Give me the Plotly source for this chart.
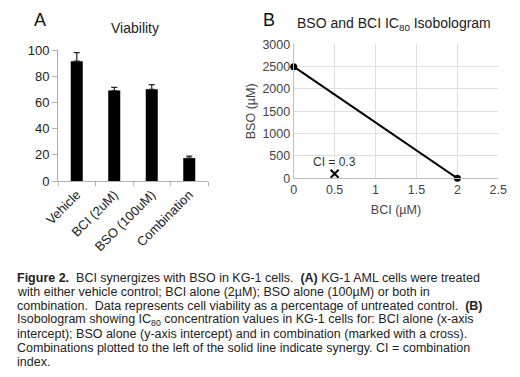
import plotly.graph_objects as go

# Panel A data
categories = ["Vehicle", "BCI (2uM)", "BSO (100uM)", "Combination"]
viability = [91.5, 69, 70, 17.5]
viability_err = [6.5, 2.5, 3.5, 1.5]

# Panel B data
iso_bci = [0, 2]
iso_bso = [2500, 0]
combo_bci = [0.5]
combo_bso = [100]
ci_label = "CI = 0.3"

caption_lines = [
    "<b>Figure 2.</b>  BCI synergizes with BSO in KG-1 cells.  <b>(A)</b> KG-1 AML cells were treated",
    "with either vehicle control; BCI alone (2µM); BSO alone (100µM) or both in",
    "combination.  Data represents cell viability as a percentage of untreated control.  <b>(B)</b>",
    "Isobologram showing IC<sub>80</sub> concentration values in KG-1 cells for: BCI alone (x-axis",
    "intercept); BSO alone (y-axis intercept) and in combination (marked with a cross).",
    "Combinations plotted to the left of the solid line indicate synergy. CI = combination",
    "index.",
]

FONT = "Liberation Sans, Arial, sans-serif"
W, H = 520, 377

fig = go.Figure()

fig.add_trace(go.Bar(
    x=categories, y=viability, width=0.32,
    marker=dict(color="black", line=dict(width=0)),
    error_y=dict(type="data", array=viability_err, arrayminus=[0]*4,
                 color="#222", thickness=1.2, width=3),
    xaxis="x", yaxis="y", showlegend=False,
))

fig.add_trace(go.Scatter(
    x=iso_bci, y=iso_bso, mode="lines+markers",
    line=dict(color="black", width=2),
    marker=dict(color="black", size=7),
    xaxis="x2", yaxis="y2", showlegend=False, cliponaxis=False,
))
fig.add_trace(go.Scatter(
    x=combo_bci, y=combo_bso, mode="markers",
    marker=dict(symbol="x-thin", size=8, line=dict(color="black", width=2)),
    xaxis="x2", yaxis="y2", showlegend=False, cliponaxis=False,
))

fig.update_layout(
    width=W, height=H,
    margin=dict(l=0, r=0, t=0, b=0),
    paper_bgcolor="white", plot_bgcolor="white",
    font=dict(family=FONT, color="#222"),
    xaxis=dict(domain=[58/W, 208/W], anchor="y", range=[-0.5, 3.5], automargin=False,
               showline=True, linecolor="#b0b0b0", linewidth=1,
               ticks="outside", tickson="boundaries", ticklen=4, tickcolor="#b0b0b0",
               tickangle=-45, tickfont=dict(family=FONT, size=13, color="#222"),
               showgrid=False),
    yaxis=dict(domain=[196/H, 327/H], anchor="x", range=[0, 100], dtick=20, automargin=False,
               showline=True, linecolor="#b0b0b0", linewidth=1,
               ticks="outside", ticklen=5, tickcolor="#b0b0b0",
               tickfont=dict(family=FONT, size=13, color="#222"),
               showgrid=False, zeroline=False),
    xaxis2=dict(domain=[293.7/W, 498.3/W], anchor="y2", range=[0, 2.5], dtick=0.5, automargin=False,
                showline=True, linecolor="#bfbfbf", linewidth=1,
                showgrid=True, gridcolor="#dedede", gridwidth=1, zeroline=False,
                ticks="", tickfont=dict(family=FONT, size=12.5, color="#444"),
                title=dict(text="BCI (µM)", font=dict(family=FONT, size=12.5, color="#444"), standoff=8)),
    yaxis2=dict(domain=[198.7/H, 332.7/H], anchor="x2", range=[0, 3000], dtick=500, automargin=False,
                showline=True, linecolor="#bfbfbf", linewidth=1,
                showgrid=True, gridcolor="#dedede", gridwidth=1, zeroline=False,
                ticks="", tickfont=dict(family=FONT, size=12.5, color="#444"),
                title=dict(text="BSO (µM)", font=dict(family=FONT, size=12.5, color="#444"), standoff=4)),
)

annotations = [
    dict(text="A", x=40, y=20, font=dict(size=18, color="#111")),
    dict(text="B", x=269, y=20, font=dict(size=18, color="#111")),
    dict(text="Viability", x=134.7, y=28, font=dict(size=14, color="#222")),
    dict(text="BSO and BCI IC<sub>80</sub> Isobologram", x=394, y=24,
         font=dict(size=14, color="#222")),
]
for a in annotations:
    fig.add_annotation(text=a["text"], x=a["x"]/W, y=1 - a["y"]/H,
                       xref="paper", yref="paper", showarrow=False,
                       xanchor="center", yanchor="middle", font=dict(family=FONT, **a["font"]))

fig.add_annotation(text=ci_label, x=combo_bci[0], y=370, xref="x2", yref="y2",
                   showarrow=False, xanchor="center", yanchor="middle",
                   font=dict(family=FONT, size=12, color="#333"))

for i, line in enumerate(caption_lines):
    fig.add_annotation(text=line, x=15/W, y=1 - (277.7 + 14*i)/H, xref="paper", yref="paper",
                       showarrow=False, xanchor="left", yanchor="middle", align="left",
                       font=dict(family=FONT, size=12.5, color="#222"))

fig.write_html("out.html", config={"displayModeBar": False},
               post_script="document.body.style.margin='0';")
